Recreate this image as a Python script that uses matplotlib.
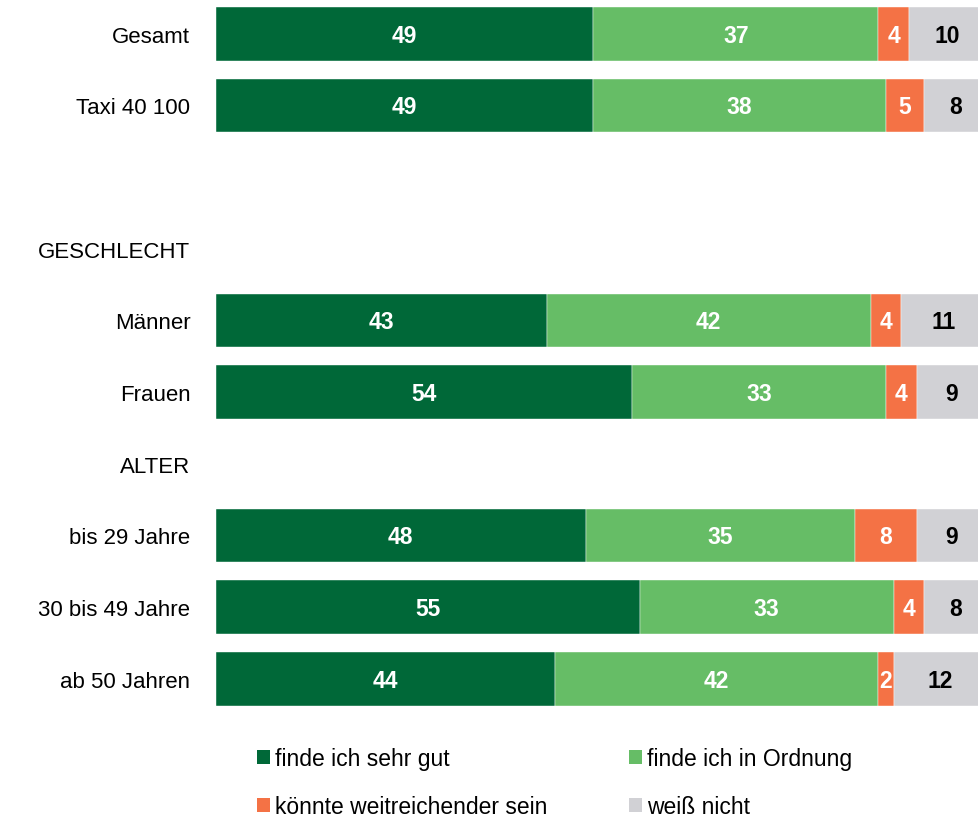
import matplotlib
matplotlib.use("Agg")
import matplotlib.pyplot as plt
from matplotlib.patches import Patch
import numpy as np

plt.rcParams['font.family'] = ['Liberation Sans', 'DejaVu Sans']

# ---- data ----
row_labels = ["Gesamt", "Taxi 40 100", "", "GESCHLECHT", "Männer", "Frauen",
              "ALTER", "bis 29 Jahre", "30 bis 49 Jahre", "ab 50 Jahren"]
has_bar = [True, True, False, False, True, True, False, True, True, True]
sehr_gut = [49, 49, 0, 0, 43, 54, 0, 48, 55, 44]
in_ordnung = [37, 38, 0, 0, 42, 33, 0, 35, 33, 42]
weitreichender = [4, 5, 0, 0, 4, 4, 0, 8, 4, 2]
weiss_nicht = [10, 8, 0, 0, 11, 9, 0, 9, 8, 12]
series_names = ["finde ich sehr gut", "finde ich in Ordnung",
                "könnte weitreichender sein", "weiß nicht"]
colors = ["#006838", "#66BD66", "#F47245", "#D1D1D5"]
text_colors = ["white", "white", "white", "black"]

W, H = 979, 820
fig = plt.figure(figsize=(W / 100, H / 100), dpi=100)
ax_left = 216 / W
ax_w = 770 / W
top_px, bot_px = -1.0, 715.6
ax = fig.add_axes([ax_left, 1 - bot_px / H, ax_w, (bot_px - top_px) / H])

y = np.arange(len(row_labels))
series = [sehr_gut, in_ordnung, weitreichender, weiss_nicht]
left = np.zeros(len(y))
for vals, col, tcol in zip(series, colors, text_colors):
    vals = np.array(vals, dtype=float)
    mask = np.array(has_bar)
    ax.barh(y[mask], vals[mask], left=left[mask], height=0.75, color=col,
            edgecolor="white", linewidth=0.3)
    for yi, v, l in zip(y[mask], vals[mask], left[mask]):
        ax.text(l + v / 2, yi + 0.02, f"{int(v)}", ha="center", va="center",
                color=tcol, fontsize=16.5, fontweight="bold")
    left = left + vals

ax.set_xlim(0, 100)
ax.set_ylim(len(y) - 0.5, -0.5)
ax.set_yticks(y)
ax.set_yticklabels(row_labels, fontsize=16)
ax.tick_params(axis="y", length=0, pad=18.5)
ax.set_xticks([])
for s in ax.spines.values():
    s.set_visible(False)

handles = [Patch(facecolor=c, edgecolor="none") for c in colors]
leg_kw = dict(frameon=False, fontsize=16.5, handlelength=0.55, handleheight=0.55,
              handletextpad=0.25, labelspacing=1.09, borderpad=0, borderaxespad=0)
fig.legend([handles[0], handles[2]], [series_names[0], series_names[2]],
           loc="upper left", bbox_to_anchor=(257 / W, 1 - 748 / H), **leg_kw)
fig.legend([handles[1], handles[3]], [series_names[1], series_names[3]],
           loc="upper left", bbox_to_anchor=(629 / W, 1 - 748 / H), **leg_kw)

fig.savefig("out.png", dpi=100)
